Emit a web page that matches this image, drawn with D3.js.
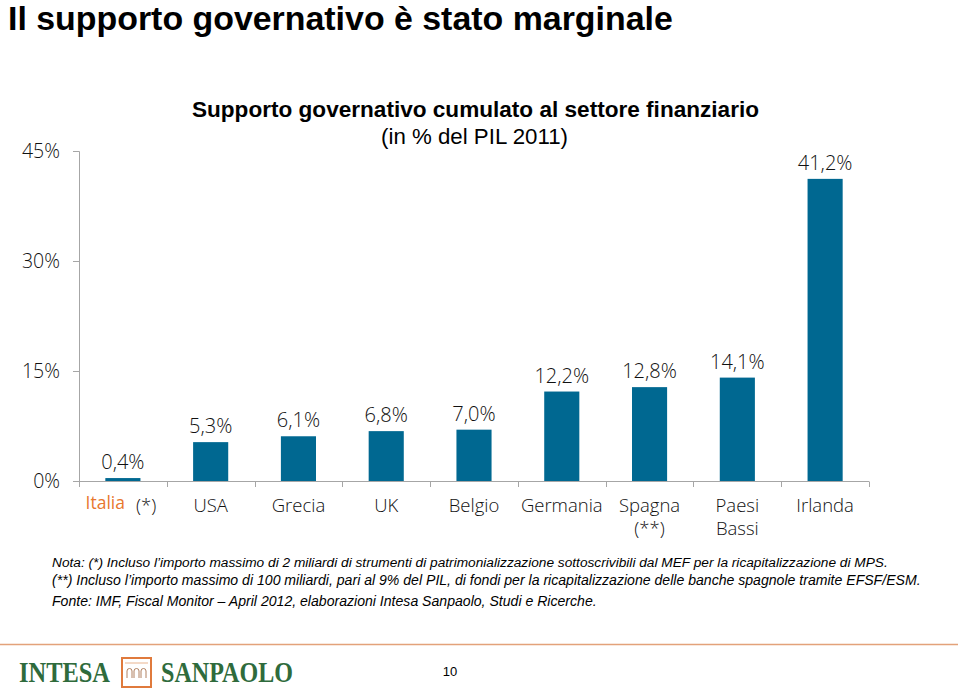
<!DOCTYPE html>
<html><head><meta charset="utf-8">
<script src="https://cdn.jsdelivr.net/npm/d3@7"></script>
<style>
html,body{margin:0;padding:0;background:#fff;}
svg{display:block;}
</style></head>
<body>
<script>
// ---- data ----
const categories = ["Italia", "USA", "Grecia", "UK", "Belgio", "Germania", "Spagna", "Paesi", "Irlanda"];
const categorySecondLine = ["", "", "", "", "", "", "(**)", "Bassi", ""];
const categorySuffix = ["(*)", "", "", "", "", "", "", "", ""];
const values = [0.4, 5.3, 6.1, 6.8, 7.0, 12.2, 12.8, 14.1, 41.2];
const valueLabels = ["0,4%", "5,3%", "6,1%", "6,8%", "7,0%", "12,2%", "12,8%", "14,1%", "41,2%"];
const yTicks = [0, 15, 30, 45];
const yTickLabels = ["0%", "15%", "30%", "45%"];
const titleText = "Il supporto governativo è stato marginale";
const chartTitle = "Supporto governativo cumulato al settore finanziario";
const chartSubtitle = "(in % del PIL 2011)";
const notes = [
  "Nota: (*) Incluso l\u2019importo massimo di 2 miliardi di strumenti di patrimonializzazione sottoscrivibili dal MEF per la ricapitalizzazione di MPS.",
  "(**) Incluso l\u2019importo massimo di 100 miliardi, pari al 9% del PIL, di fondi per la ricapitalizzazione delle banche spagnole tramite EFSF/ESM.",
  "Fonte: IMF, Fiscal Monitor \u2013 April 2012, elaborazioni Intesa Sanpaolo, Studi e Ricerche."
];
const pageNumber = "10";

// ---- layout ----
const W = 960, H = 689;
const svg = d3.select("body").append("svg").attr("width", W).attr("height", H);
const barColor = "#006891";
const textColor = "#111";
const axisColor = "#a6a6a6";
const orange = "#e8772e";
const labelFont = "'Open Sans', 'Noto Sans', sans-serif";
const labelWeight = 300;

function fitText(sel, target) {
  const node = sel.node();
  const w = node.getComputedTextLength();
  const fs = parseFloat(sel.attr("font-size"));
  sel.attr("font-size", (fs * target / w).toFixed(2));
}

// main title
const t = svg.append("text").attr("x", 8).attr("y", 30)
  .attr("font-family", "'Liberation Sans', Arial, sans-serif").attr("font-weight", "bold")
  .attr("font-size", 29).attr("fill", "#000").text(titleText);
fitText(t, 665);

// chart title
const ct = svg.append("text").attr("x", 475.5).attr("y", 117).attr("text-anchor", "middle")
  .attr("font-family", "'Liberation Sans', Arial, sans-serif").attr("font-weight", "bold")
  .attr("font-size", 20).attr("fill", "#000").text(chartTitle);
fitText(ct, 567);
const cs = svg.append("text").attr("x", 474.5).attr("y", 144).attr("text-anchor", "middle")
  .attr("font-family", "'Liberation Sans', Arial, sans-serif")
  .attr("font-size", 20).attr("fill", "#000").text(chartSubtitle);
fitText(cs, 187);

// scales
const x = d3.scaleBand().domain(categories).range([79, 869]).paddingInner(0.6).paddingOuter(0.3);
const xb = d3.scaleBand().domain(categories).range([79, 869]);
const y = d3.scaleLinear().domain([0, 45]).range([481, 151]);

// y axis
const yAxis = d3.axisLeft(y).tickValues(yTicks).tickSize(6).tickFormat((d, i) => yTickLabels[i]);
const yg = svg.append("g").attr("transform", "translate(79,0)").call(yAxis);
yg.select(".domain").attr("stroke", axisColor).attr("d", "M-6,151.5H0.5V481.5");
yg.selectAll(".tick line").attr("stroke", axisColor);
yg.selectAll(".tick text").attr("font-family", labelFont).attr("font-weight", labelWeight)
  .attr("font-size", 19.5).attr("fill", textColor).attr("x", -19);

// x axis baseline + ticks
const xg = svg.append("g");
xg.append("line").attr("x1", 79).attr("x2", 869).attr("y1", 481.5).attr("y2", 481.5).attr("stroke", axisColor);
xg.selectAll("line.t").data(categories.concat(["__end"])).join("line").attr("class", "t")
  .attr("x1", (d, i) => Math.round(xb(categories[0]) + i * xb.step()) + 0.5)
  .attr("x2", (d, i) => Math.round(xb(categories[0]) + i * xb.step()) + 0.5)
  .attr("y1", 481.5).attr("y2", 487).attr("stroke", axisColor);

// bars
svg.append("g").selectAll("rect").data(values).join("rect")
  .attr("x", (d, i) => x(categories[i]))
  .attr("width", x.bandwidth())
  .attr("y", d => y(d))
  .attr("height", d => y(0) - y(d))
  .attr("fill", barColor);

// value labels
svg.append("g").selectAll("text").data(values).join("text")
  .attr("x", (d, i) => xb(categories[i]) + xb.bandwidth() / 2)
  .attr("y", d => y(d) - 9)
  .attr("text-anchor", "middle")
  .attr("font-family", labelFont).attr("font-weight", labelWeight)
  .attr("font-size", 20).attr("fill", textColor)
  .text((d, i) => valueLabels[i]);

// category labels
const cg = svg.append("g").attr("font-family", labelFont).attr("font-weight", labelWeight)
  .attr("font-size", 18.5).attr("fill", textColor);
categories.forEach((c, i) => {
  const cx = xb(c) + xb.bandwidth() / 2;
  const tx = cg.append("text").attr("x", cx).attr("y", 512).attr("text-anchor", "middle");
  if (c === "Italia") {
    tx.attr("x", cx - 2);
    tx.append("tspan").attr("fill", orange).attr("font-weight", 400).attr("font-size", 17.5).attr("dy", -3).text(c);
    tx.append("tspan").attr("dx", 11).attr("dy", 3).text(categorySuffix[i]);
  } else if (categorySecondLine[i]) {
    tx.text(c);
    cg.append("text").attr("x", cx).attr("y", 535).attr("text-anchor", "middle").text(categorySecondLine[i]);
  } else {
    tx.text(c);
  }
});

// notes
const nf = "'Liberation Sans', Arial, sans-serif";
const noteTargets = [836, 869, 545];
const noteY = [567, 585, 606];
notes.forEach((n, i) => {
  const nt = svg.append("text").attr("x", 52).attr("y", noteY[i]).attr("font-family", nf)
    .attr("font-style", "italic").attr("font-size", 13).attr("fill", "#000").text(n);
  fitText(nt, noteTargets[i]);
});

// footer line
svg.append("line").attr("x1", 0).attr("x2", 958).attr("y1", 644.5).attr("y2", 644.5)
  .attr("stroke", "#e3a27a").attr("stroke-width", 1.5);

// logo
const green = "#2f6b3c";
const lf = "'Liberation Serif', 'DejaVu Serif', serif";
svg.append("text").attr("x", 19).attr("y", 682).attr("font-family", lf).attr("font-weight", "bold")
  .attr("font-size", 29).attr("fill", green).text("INTESA")
  .attr("textLength", 91).attr("lengthAdjust", "spacingAndGlyphs");
svg.append("text").attr("x", 161).attr("y", 682).attr("font-family", lf).attr("font-weight", "bold")
  .attr("font-size", 29).attr("fill", green).text("SANPAOLO")
  .attr("textLength", 132).attr("lengthAdjust", "spacingAndGlyphs");
svg.append("rect").attr("x", 122).attr("y", 658).attr("width", 29).attr("height", 29)
  .attr("fill", "#fff").attr("stroke", "#e07a3c").attr("stroke-width", 2);
svg.append("line").attr("x1", 125).attr("x2", 148).attr("y1", 663).attr("y2", 663).attr("stroke", "#e9b48f").attr("stroke-width", 1);
[0, 1, 2].forEach(k => {
  const ax = 127 + k * 7;
  svg.append("path").attr("d", `M${ax},678V671a2.5,2.5 0 0 1 5,0V678`)
    .attr("fill", "none").attr("stroke", "#b08060").attr("stroke-width", 1);
});

svg.append("text").attr("x", 450).attr("y", 676).attr("text-anchor", "middle")
  .attr("font-family", "'Liberation Sans', Arial, sans-serif").attr("font-size", 13).attr("fill", "#000").text(pageNumber);
</script>
</body></html>
